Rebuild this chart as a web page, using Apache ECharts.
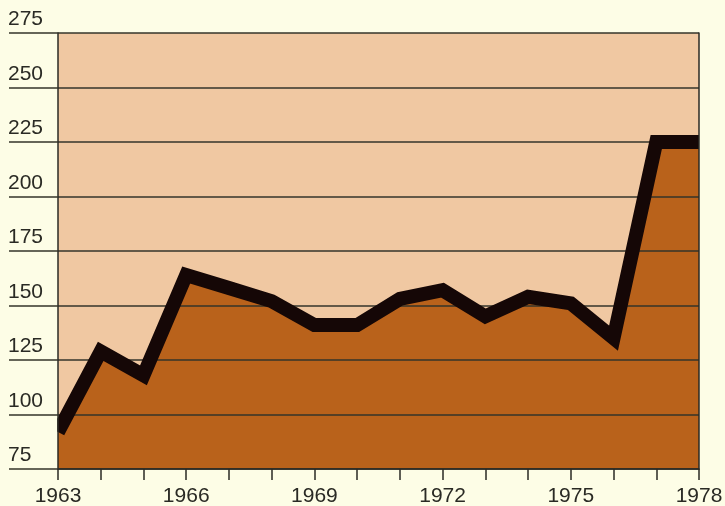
<!DOCTYPE html>
<html><head><meta charset="utf-8">
<script src="https://cdn.jsdelivr.net/npm/echarts@6/dist/echarts.min.js"></script>
<style>html,body{margin:0;padding:0;background:#fdfde6}#c{width:725px;height:506px}</style>
</head><body><div id="c"></div>
<script>
const years = [1963,1964,1965,1966,1967,1968,1969,1970,1971,1972,1973,1974,1975,1976,1977,1978];
const values = [92,129,118,164,158,152,141,141,153,157,145,154,151,135,225,225];
const yMin = 75, yMax = 275, yStep = 25;
const xLabelStep = 3;

const FONT = '"Liberation Sans", Arial, sans-serif';
const INK = '#2a2a24';
const pairs = years.map((y, i) => [y, values[i]]);

const chart = echarts.init(document.getElementById('c'), null, {renderer: 'canvas'});
const yBase = {type: 'value', min: yMin, max: yMax, interval: yStep, position: 'left'};
chart.setOption({
  backgroundColor: '#fdfde6',
  animation: false,
  grid: {left: 58, right: 26, top: 33, bottom: 37, show: true, backgroundColor: '#f0c8a2', borderWidth: 0,
    containLabel: false, outerBoundsMode: 'none'},
  xAxis: {
    type: 'value', min: years[0], max: years[years.length - 1], interval: 1, z: 10,
    axisLine: {show: true, lineStyle: {color: INK, width: 1.5}},
    axisTick: {show: true, length: 11, lineStyle: {color: INK, width: 1.5}},
    splitLine: {show: false},
    axisLabel: {
      color: INK, fontFamily: FONT, fontSize: 21, margin: 17,
      formatter: v => ((v - years[0]) % xLabelStep === 0 ? String(v) : '')
    }
  },
  yAxis: [
    Object.assign({}, yBase, {
      z: 1.5,
      axisLine: {show: false}, axisTick: {show: false}, axisLabel: {show: false},
      splitLine: {show: true, lineStyle: {color: '#34342a', width: 1.5}}
    }),
    Object.assign({}, yBase, {
      z: 10,
      axisLine: {show: true, onZero: false, lineStyle: {color: INK, width: 1.5}},
      axisTick: {show: true, length: 49, lineStyle: {color: '#34342a', width: 1.5}},
      splitLine: {show: false},
      axisLabel: {color: INK, fontFamily: FONT, fontSize: 21, margin: 50, align: 'left',
        verticalAlign: 'bottom', padding: [0, 0, 3, 0]}
    }),
    Object.assign({}, yBase, {
      position: 'right', z: 10,
      axisLine: {show: true, onZero: false, lineStyle: {color: INK, width: 1.5}},
      axisTick: {show: false}, axisLabel: {show: false}, splitLine: {show: false}
    })
  ],
  series: [
    {
      type: 'line', data: pairs, yAxisIndex: 0, z: 1, symbol: 'none',
      lineStyle: {width: 0},
      areaStyle: {color: '#b9621b', opacity: 1, origin: 'start'}
    },
    {
      type: 'line', data: pairs, yAxisIndex: 0, z: 3, symbol: 'none',
      lineStyle: {color: '#150706', width: 14, join: 'miter', cap: 'butt'}
    }
  ]
});

// cover the thick line's overflow outside the plot edges
const p0 = chart.convertToPixel({gridIndex: 0}, [years[0], yMax]);
const p1 = chart.convertToPixel({gridIndex: 0}, [years[years.length - 1], yMin]);
chart.setOption({
  graphic: [
    {type: 'rect', z: 5, silent: true, shape: {x: p0[0] - 10, y: p0[1] - 10, width: 9.3, height: p1[1] - p0[1] + 20}, style: {fill: '#fdfde6'}},
    {type: 'rect', z: 5, silent: true, shape: {x: p1[0] + 0.7, y: p0[1] - 10, width: 10, height: p1[1] - p0[1] + 20}, style: {fill: '#fdfde6'}}
  ]
});
</script></body></html>
